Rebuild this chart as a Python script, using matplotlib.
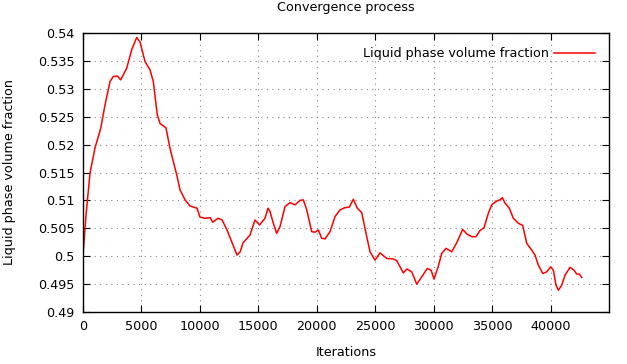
import numpy as np
import matplotlib
matplotlib.use('Agg')
import matplotlib.pyplot as plt

# values
iterations = [0, 260, 599, 1027, 1514, 1882, 2310, 2593, 2935, 3226, 3739, 4167, 4595, 4877,
              5305, 5733, 6015, 6357, 6588, 7101, 7444, 8017, 8300, 8727, 9155, 9754, 10010,
              10450, 10880, 11100, 11550, 11900, 12320, 12834, 13176, 13450, 13690, 14289,
              14716, 15100, 15572, 15829, 16000, 16283, 16570, 16855, 17283, 17711, 18139,
              18567, 18850, 19140, 19567, 19850, 20133, 20423, 20706, 21134, 21562, 21990,
              22417, 22785, 23127, 23469, 23846, 24274, 24555, 24983, 25411, 25984, 26550,
              26840, 27125, 27405, 27697, 28125, 28550, 28980, 29460, 29775, 30032, 30400,
              30690, 31060, 31546, 31970, 32486, 32829, 33256, 33624, 33967, 34309, 34678,
              34968, 35396, 35678, 35875, 36106, 36474, 36816, 37244, 37620, 37962, 38390,
              38672, 38955, 39331, 39673, 40016, 40239, 40469, 40666, 40957, 41239, 41667,
              42010, 42240, 42463, 42668]
fraction = [0.5002, 0.5074, 0.5149, 0.5194, 0.5229, 0.5271, 0.5313, 0.5322, 0.5323, 0.5316,
            0.5337, 0.5370, 0.5392, 0.5384, 0.5349, 0.5334, 0.5313, 0.5253, 0.5238, 0.5230,
            0.5193, 0.5146, 0.5119, 0.5101, 0.5090, 0.5086, 0.5070, 0.5068, 0.5069, 0.5061,
            0.5068, 0.5065, 0.5047, 0.5020, 0.5002, 0.5008, 0.5024, 0.5038, 0.5065, 0.5056,
            0.5068, 0.5086, 0.5080, 0.5059, 0.5041, 0.5053, 0.5089, 0.5096, 0.5092, 0.5100,
            0.5101, 0.5083, 0.5044, 0.5043, 0.5047, 0.5032, 0.5031, 0.5044, 0.5071, 0.5083,
            0.5087, 0.5088, 0.5102, 0.5086, 0.5078, 0.5035, 0.5008, 0.4993, 0.5006, 0.4996,
            0.4995, 0.4992, 0.4981, 0.4970, 0.4977, 0.4972, 0.4950, 0.4963, 0.4978, 0.4975,
            0.4959, 0.4982, 0.5005, 0.5014, 0.5008, 0.5024, 0.5048, 0.5040, 0.5035, 0.5035,
            0.5046, 0.5051, 0.5077, 0.5092, 0.5099, 0.5101, 0.5105, 0.5095, 0.5086, 0.5068,
            0.5059, 0.5055, 0.5023, 0.5011, 0.5002, 0.4984, 0.4969, 0.4972, 0.4981, 0.4975,
            0.4948, 0.4939, 0.4948, 0.4966, 0.4980, 0.4975, 0.4968, 0.4968, 0.4962]

x_ticks = [0, 5000, 10000, 15000, 20000, 25000, 30000, 35000, 40000]
y_ticks = [0.49, 0.495, 0.5, 0.505, 0.51, 0.515, 0.52, 0.525, 0.53, 0.535, 0.54]
y_labels = ['0.49', '0.495', '0.5', '0.505', '0.51', '0.515', '0.52', '0.525', '0.53', '0.535', '0.54']

plt.rcParams['font.family'] = ['DejaVu Sans']
plt.rcParams['font.size'] = 9.2

fig = plt.figure(figsize=(6.27, 3.64), dpi=100)
ax = fig.add_axes([83/627, 1-312/364, (609-83)/627, (312-33)/364])

ax.plot(iterations, fraction, color='red', lw=1.1, label='Liquid phase volume fraction')

ax.set_xlim(0, 45000)
ax.set_ylim(0.49, 0.54)
ax.set_xticks(x_ticks)
ax.set_yticks(y_ticks)
ax.set_yticklabels(y_labels)
ax.tick_params(direction='in', length=5, width=0.8, top=True, right=True, pad=6)
ax.grid(True, color='#888888', linestyle=(0, (1, 4)), linewidth=0.8)
for s in ax.spines.values():
    s.set_linewidth(1.0)

ax.set_title('Convergence process', fontsize=9.2, y=1 + 25/279, va='center', pad=0)
ax.set_xlabel('Iterations', va='center')
ax.xaxis.set_label_coords(0.5, -41/279)
ax.set_ylabel('Liquid phase volume fraction', va='center')
ax.yaxis.set_label_coords(-73/526, 0.5)

leg = ax.legend(loc='upper right', frameon=False, markerfirst=False, handlelength=3.2,
                borderaxespad=0.7, handletextpad=0.4)

fig.savefig('out.png', dpi=100)
